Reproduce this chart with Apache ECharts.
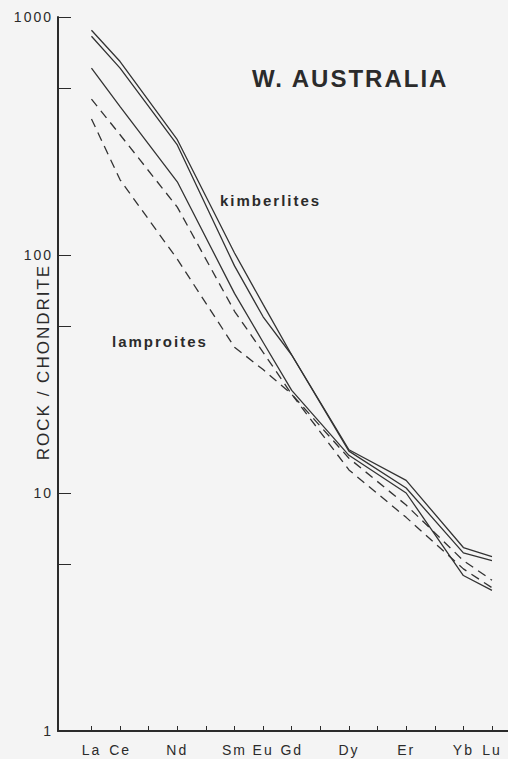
<!DOCTYPE html>
<html>
<head>
<meta charset="utf-8">
<script src="https://cdn.jsdelivr.net/npm/echarts@6/dist/echarts.min.js"></script>
<style>
  html, body { margin: 0; padding: 0; background: #f4f4f4; }
  #chart { width: 508px; height: 759px; }
  #chart text { letter-spacing: 2px; }
</style>
</head>
<body>
<div id="chart"></div>
<script>
// REE sequence on the x axis (one tick per element)
const elements = ['La', 'Ce', 'Pr', 'Nd', 'Pm', 'Sm', 'Eu', 'Gd', 'Tb', 'Dy', 'Ho', 'Er', 'Tm', 'Yb', 'Lu'];
// elements actually analysed / labelled
const plotted = ['La', 'Ce', 'Nd', 'Sm', 'Eu', 'Gd', 'Dy', 'Er', 'Yb', 'Lu'];
const yTicks = [1, 5, 10, 50, 100, 500, 1000];
const yLabels = [1, 10, 100, 1000];

// rock / chondrite
const kimberlite1 = [880, 650, 305, 102, 62, 38, 15.2, 11.3, 5.9, 5.4];
const kimberlite2 = [830, 610, 290, 90, 55, 38, 15.0, 10.5, 5.6, 5.2];
const kimberlite3 = [610, 420, 203, 69, 43, 27, 14.4, 10.0, 4.5, 3.9];
const lamproite1 = [452, 320, 159, 58, 39, 26, 14.0, 8.9, 5.2, 4.3];
const lamproite2 = [373, 207, 96, 41, 33, 26, 12.5, 7.9, 4.8, 4.0];

const ink = '#2b2b2b';

function toPairs(vals) {
  return plotted.map((el, i) => [elements.indexOf(el), vals[i]]);
}

function line(name, vals, dashed) {
  return {
    name, type: 'line', data: toPairs(vals), symbol: 'none',
    lineStyle: { color: '#333', width: 1.3, type: dashed ? [9, 6] : 'solid' },
    silent: true, animation: false,
  };
}

const chart = echarts.init(document.getElementById('chart'), null, { renderer: 'svg' });
chart.setOption({
  backgroundColor: '#f4f4f4',
  animation: false,
  grid: { left: 58, right: 0, top: 17, bottom: 28 },
  xAxis: {
    type: 'value', min: -1.17, max: 14.56,
    axisLine: { onZero: false, lineStyle: { color: ink, width: 2 } },
    axisTick: { inside: true, length: 5, lineStyle: { color: ink, width: 1 },
      customValues: elements.map((_, i) => i) },
    axisLabel: { color: ink, fontSize: 14, fontFamily: 'Liberation Sans', margin: 12,
      customValues: plotted.map(el => elements.indexOf(el)),
      formatter: v => elements[v] },
    splitLine: { show: false },
  },
  yAxis: {
    type: 'log', min: 1, max: 1000,
    axisLine: { onZero: false, lineStyle: { color: ink, width: 2 } },
    axisTick: { inside: true, length: 13, lineStyle: { color: ink, width: 1 },
      customValues: yTicks },
    axisLabel: { color: ink, fontSize: 14, fontFamily: 'Liberation Sans', margin: 5,
      verticalAlign: 'middle', padding: [0, 0, 10, 0],
      customValues: yLabels, formatter: v => String(v) },
    splitLine: { show: false },
  },
  graphic: [
    { type: 'text', x: 252, y: 78,
      style: { text: 'W. AUSTRALIA', font: 'bold 24px "Liberation Sans"', fill: ink,
        textAlign: 'left', textVerticalAlign: 'middle' } },
    { type: 'text', x: 220, y: 200,
      style: { text: 'kimberlites', font: 'bold 15px "Liberation Sans"', fill: ink,
        textAlign: 'left', textVerticalAlign: 'middle' } },
    { type: 'text', x: 112, y: 341,
      style: { text: 'lamproites', font: 'bold 15px "Liberation Sans"', fill: ink,
        textAlign: 'left', textVerticalAlign: 'middle' } },
    { type: 'text', x: 43, y: 362, rotation: Math.PI / 2,
      style: { text: 'ROCK / CHONDRITE', font: '17px "Liberation Sans"', fill: ink,
        textAlign: 'center', textVerticalAlign: 'middle' } },
  ],
  series: [
    line('kimberlite 1', kimberlite1, false),
    line('kimberlite 2', kimberlite2, false),
    line('kimberlite 3', kimberlite3, false),
    line('lamproite 1', lamproite1, true),
    line('lamproite 2', lamproite2, true),
  ],
});
</script>
</body>
</html>
